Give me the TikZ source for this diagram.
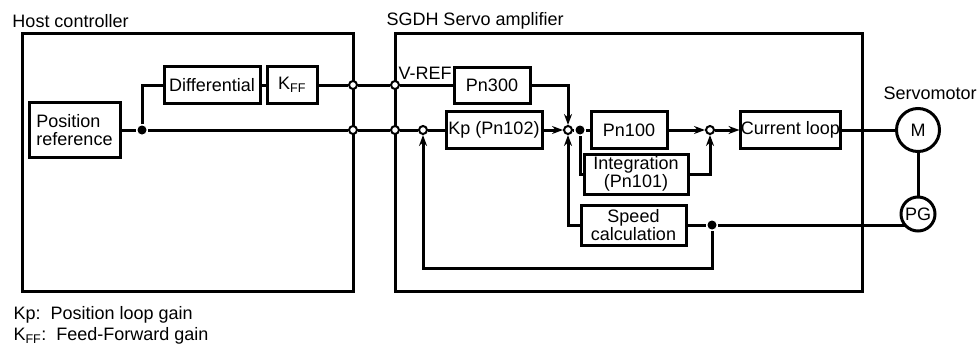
\documentclass[tikz,border=0pt]{standalone}
\usepackage{fontspec}
\setmainfont{Liberation Sans}
\usetikzlibrary{arrows.meta}

\begin{document}
\begin{tikzpicture}[x=1pt,y=-1pt,line width=3pt,font=\fontsize{18}{18}\selectfont,
  blk/.style={draw,inner sep=0pt,minimum height=37pt,align=center},
  sumpt/.style={draw,circle,fill=white,inner sep=0pt,minimum size=8pt,line width=2pt},
  dotpt/.style={circle,fill,inner sep=0pt,minimum size=9pt},
  lbl/.style={anchor=west,inner sep=0pt},
  >={Stealth[length=11pt,width=8pt]}]
\useasboundingbox (0,0) rectangle (979,345);
% frames
\draw (22,34) rectangle (353,291);
\draw (395,34) rectangle (862,291);
\node[lbl] (hostlbl) at (11,21) {Host controller};
\node[lbl] (amplbl) at (385,21) {SGDH Servo amplifier};
% blocks
\node[blk,minimum width=91pt,minimum height=55pt,align=left] (posref) at (74.5,130) {Position\\reference};
\node[blk,minimum width=96pt] (diff) at (212,85) {Differential};
\node[blk,minimum width=50pt] (kff) at (292,85) {K\textsubscript{FF}};
\node[blk,minimum width=76pt,minimum height=36pt] (pn300) at (492,85) {Pn300};
\node[blk,minimum width=96pt] (kp) at (494,130) {Kp (Pn102)};
\node[blk,minimum width=76pt] (pn100) at (629,130) {Pn100};
\node[blk,minimum width=104pt,minimum height=40pt] (integ) at (636,174) {Integration\\(Pn101)};
\node[blk,minimum width=105pt,minimum height=40pt] (speed) at (633.5,225) {Speed\\calculation};
\node[blk,minimum width=97pt] (curloop) at (790.5,130) {Current loop};
\node[draw,circle,minimum size=43pt,inner sep=0pt] (motor) at (918,130) {M};
\node[draw,circle,minimum size=34pt,inner sep=0pt] (pg) at (918,214) {PG};
\node[lbl] (motorlbl) at (882,93) {Servomotor};
\node[lbl] (vref) at (397,73) {V-REF};
% junctions
\foreach \nm/\px/\py in {ha/353/85,hb/353/130,sa/395/85,sb/395/130,fbsum/423/130,sum1/568/130,sum2/710/130}
  \node[sumpt] (\nm) at (\px,\py) {};
\foreach \nm/\px/\py in {br1/142/130,br2/580/130,br3/712/225}
  \node[dotpt] (\nm) at (\px,\py) {};
\coordinate (fbcorner) at (423,268);
% signal lines
\draw (posref) -- (br1) -- (hb) -- (sb) -- (fbsum) -- (kp);
\draw (br1) |- (diff.west);
\draw (diff) -- (kff);
\draw (kff) -- (ha) -- (sa) -- (pn300);
\draw[->] (pn300) -| (sum1);
\draw[->] (kp) -- (sum1);
\draw (sum1) -- (br2) -- (pn100);
\draw[->] (pn100) -- (sum2);
\draw (br2) |- (integ.west);
\draw[->] (integ.east) -| (sum2);
\draw[->] (sum2) -- (curloop);
\draw (curloop) -- (motor);
\draw (motor) -- (pg);
\draw (speed) -- (br3) -- (br3 -| pg.south west);
\draw[->] (br3) |- (fbcorner) -- (fbsum);
\draw[->] (speed) -| (sum1);
% notes
\node[lbl] (notekp) at (12,315) {Kp:\ \ Position loop gain};
\node[lbl] (notekff) at (12,336) {K\textsubscript{FF}:\ \ Feed-Forward gain};
\end{tikzpicture}
\end{document}
